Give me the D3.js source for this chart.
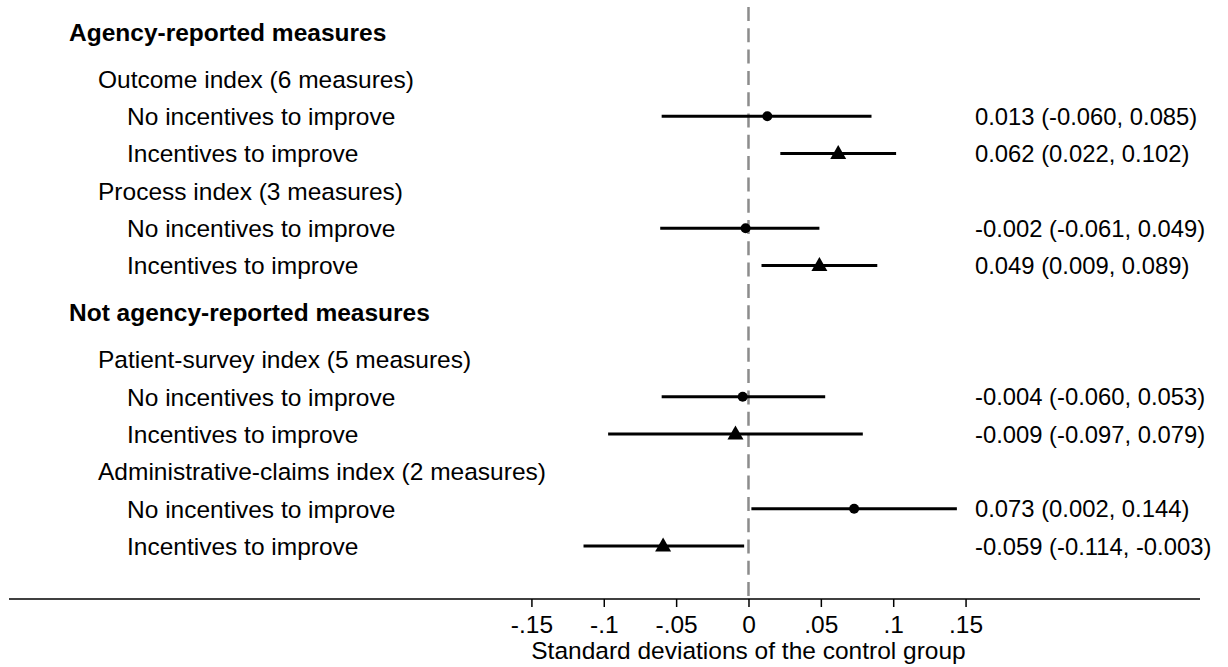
<!DOCTYPE html>
<html>
<head>
<meta charset="utf-8">
<script src="https://cdn.jsdelivr.net/npm/d3@7"></script>
<style>
  body { margin: 0; background: #fff; }
  svg { display: block; font-family: "Liberation Sans", Arial, Helvetica, sans-serif; }
</style>
</head>
<body>
<div id="chart"></div>
<script>
// rows, top to bottom. level 0 = section heading, 1 = index, 2 = estimate row
const rowLabels = [
    "Agency-reported measures",
    "Outcome index (6 measures)",
    "No incentives to improve",
    "Incentives to improve",
    "Process index (3 measures)",
    "No incentives to improve",
    "Incentives to improve",
    "Not agency-reported measures",
    "Patient-survey index (5 measures)",
    "No incentives to improve",
    "Incentives to improve",
    "Administrative-claims index (2 measures)",
    "No incentives to improve",
    "Incentives to improve"
];
const rowLevels = [0, 1, 2, 2, 1, 2, 2, 0, 1, 2, 2, 1, 2, 2];

// estimates, in order of the level-2 rows
const estimate = [0.013, 0.062, -0.002, 0.049, -0.004, -0.009, 0.073, -0.059];
const ciLow    = [-0.060, 0.022, -0.061, 0.009, -0.060, -0.097, 0.002, -0.114];
const ciHigh   = [0.085, 0.102, 0.049, 0.089, 0.053, 0.079, 0.144, -0.003];
const incentive = [false, true, false, true, false, true, false, true];

const xTicks = [-0.15, -0.1, -0.05, 0, 0.05, 0.1, 0.15];
const xTitle = "Standard deviations of the control group";

const width = 1228, height = 667;
const fontSize = 24.5;
const numSize = 23.8;

// slot positions: headings sit a bit apart from neighbouring rows
const headGap = 1.26;
let slot = 0;
const slots = rowLevels.map((lv, i) => {
    if (i > 0) slot += (lv === 0 || rowLevels[i - 1] === 0) ? headGap : 1;
    return slot;
});

const x = d3.scaleLinear().domain([-0.511, 0.312]).range([9, 1200]);
const y = d3.scaleLinear().domain([0, 1]).range([32, 69.3]);

const svg = d3.select("#chart").append("svg")
    .attr("width", width)
    .attr("height", height);

// reference line at zero
svg.append("line")
    .attr("x1", x(0)).attr("x2", x(0))
    .attr("y1", 7).attr("y2", 598)
    .attr("stroke", "#8c8c8c")
    .attr("stroke-width", 2.5)
    .attr("stroke-dasharray", "14,7.3");

// row labels
const indent = [69, 98, 127];
svg.append("g")
    .selectAll("text")
    .data(rowLabels)
    .join("text")
    .attr("x", (d, i) => indent[rowLevels[i]])
    .attr("y", (d, i) => y(slots[i]))
    .attr("dy", "0.36em")
    .attr("font-size", fontSize)
    .attr("font-weight", (d, i) => rowLevels[i] === 0 ? "bold" : null)
    .text(d => d);

// estimate rows
const estRows = slots.filter((s, i) => rowLevels[i] === 2);
const points = estimate.map((e, i) => ({
    est: e, lo: ciLow[i], hi: ciHigh[i], inc: incentive[i], slot: estRows[i]
}));

svg.append("g")
    .selectAll("line")
    .data(points)
    .join("line")
    .attr("x1", d => x(d.lo))
    .attr("x2", d => x(d.hi))
    .attr("y1", d => y(d.slot))
    .attr("y2", d => y(d.slot))
    .attr("stroke", "#000")
    .attr("stroke-width", 3);

svg.append("g")
    .selectAll("path")
    .data(points)
    .join("path")
    .attr("transform", d => `translate(${x(d.est)},${y(d.slot)})`)
    .attr("d", d => d.inc ? "M0,-8.5L8,5.5L-8,5.5Z" : d3.symbol(d3.symbolCircle, 78)())
    .attr("fill", "#000");

// estimate text on the right
const fmt = d3.format(".3f");
const fmtNum = v => fmt(v).replace("−", "-");
svg.append("g")
    .selectAll("text")
    .data(points)
    .join("text")
    .attr("x", 975)
    .attr("y", d => y(d.slot))
    .attr("dy", "0.36em")
    .attr("font-size", numSize)
    .text(d => `${fmtNum(d.est)} (${fmtNum(d.lo)}, ${fmtNum(d.hi)})`);

// x axis
const axis = svg.append("g")
    .attr("transform", "translate(0,599)")
    .call(d3.axisBottom(x)
        .tickValues(xTicks)
        .tickSize(8)
        .tickPadding(9)
        .tickFormat(d => d === 0 ? "0" : d3.format(".2~f")(d).replace("−", "-").replace(/^(-?)0\./, "$1.")));
axis.select(".domain")
    .attr("d", `M${x.range()[0]},0H${x.range()[1]}`)
    .attr("stroke-width", 1.5);
axis.selectAll(".tick line").attr("stroke-width", 1.5);
axis.selectAll(".tick text")
    .attr("font-size", fontSize)
    .attr("font-family", "Liberation Sans, Arial, sans-serif")
    .attr("fill", "#000");

svg.append("text")
    .attr("x", x(0))
    .attr("y", 659)
    .attr("text-anchor", "middle")
    .attr("font-size", fontSize)
    .text(xTitle);
</script>
</body>
</html>
